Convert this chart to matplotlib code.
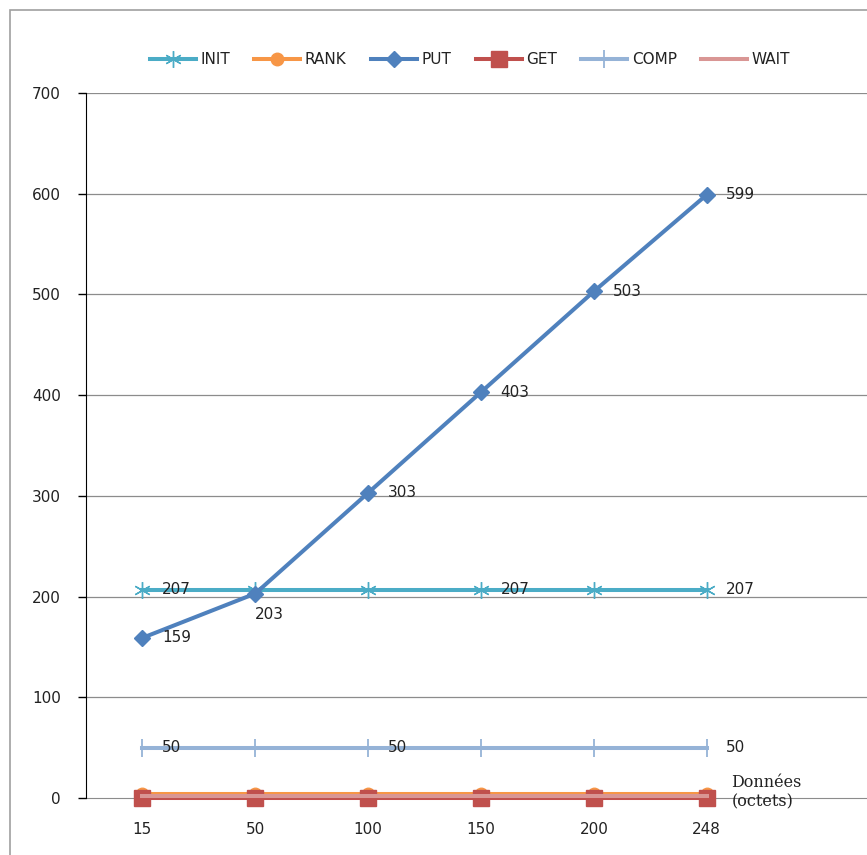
import matplotlib.pyplot as plt
from matplotlib.patches import Rectangle

# data
categories = ['15', '50', '100', '150', '200', '248']
init_vals = [207, 207, 207, 207, 207, 207]
rank_vals = [4, 4, 4, 4, 4, 4]
put_vals = [159, 203, 303, 403, 503, 599]
get_vals = [0, 0, 0, 0, 0, 0]
comp_vals = [50, 50, 50, 50, 50, 50]
wait_vals = [2, 2, 2, 2, 2, 2]

init_labels = [0, 3, 5]
comp_labels = [0, 2, 5]

fig = plt.figure(figsize=[8.67, 8.55], dpi=100)
fig.patches.append(Rectangle((10/867, -0.1), 1.2, (855-10)/855 + 0.1, transform=fig.transFigure,
                             fill=False, edgecolor='#a0a0a0', linewidth=1.2))
ax = fig.add_axes([86/867, 57/855, 1 - 86/867, (798-93)/855])

x = list(range(len(categories)))
lw = 2.9
ax.plot(x, init_vals, color='#4bacc6', lw=lw, marker=(6, 2, 0), ms=12, mew=1.0, label='INIT', clip_on=False)
ax.plot(x, rank_vals, color='#f79646', lw=lw, marker='o', ms=9, label='RANK', clip_on=False)
ax.plot(x, put_vals, color='#4f81bd', lw=lw, marker='D', ms=8, label='PUT', clip_on=False)
ax.plot(x, get_vals, color='#c0504d', lw=lw, marker='s', ms=11, label='GET', clip_on=False)
ax.plot(x, comp_vals, color='#95b3d7', lw=lw, marker='|', ms=13, mew=1.3, label='COMP', clip_on=False)
ax.plot(x, wait_vals, color='#d99694', lw=lw, label='WAIT', clip_on=False)

fs = 11
tc = '#222222'
for i, v in enumerate(put_vals):
    if i == 1:
        ax.annotate(str(v), (i, v), xytext=(0, -10), textcoords='offset points',
                    ha='left', va='top', fontsize=fs, color=tc)
    else:
        ax.annotate(str(v), (i, v), xytext=(14, 0), textcoords='offset points',
                    ha='left', va='center', fontsize=fs, color=tc)
for i in init_labels:
    ax.annotate(str(init_vals[i]), (i, init_vals[i]), xytext=(14, 0), textcoords='offset points',
                ha='left', va='center', fontsize=fs, color=tc)
for i in comp_labels:
    ax.annotate(str(comp_vals[i]), (i, comp_vals[i]), xytext=(14, 0), textcoords='offset points',
                ha='left', va='center', fontsize=fs, color=tc)

ax.set_ylim(0, 700)
ax.set_xlim(-0.5, 6.42)
ax.set_yticks(range(0, 701, 100))
ax.set_xticks(x)
ax.set_xticklabels(categories)
ax.tick_params(axis='y', length=6, width=1, labelsize=fs, pad=12, labelcolor=tc)
ax.tick_params(axis='x', length=0, labelsize=fs, pad=17, labelcolor=tc)
for y in range(100, 701, 100):
    ax.axhline(y, color='#8c8c8c', lw=0.9, zorder=0)
ax.spines['top'].set_visible(False)
ax.spines['right'].set_visible(False)
ax.spines['left'].set_color('black')
ax.spines['bottom'].set_color('#8c8c8c')
ax.spines['bottom'].set_zorder(0)

ax.text(5.22, 6, 'Données\n(octets)', family='DejaVu Serif', fontsize=11.5,
        ha='left', va='center', linespacing=1.2, color=tc)

ax.legend(loc='center', bbox_to_anchor=(470/867, 1 - 60/855), bbox_transform=fig.transFigure,
          ncol=6, frameon=False, fontsize=fs, handlelength=3, columnspacing=1.6, handletextpad=0.3,
          labelcolor=tc)

plt.savefig('out.png', dpi=100)
